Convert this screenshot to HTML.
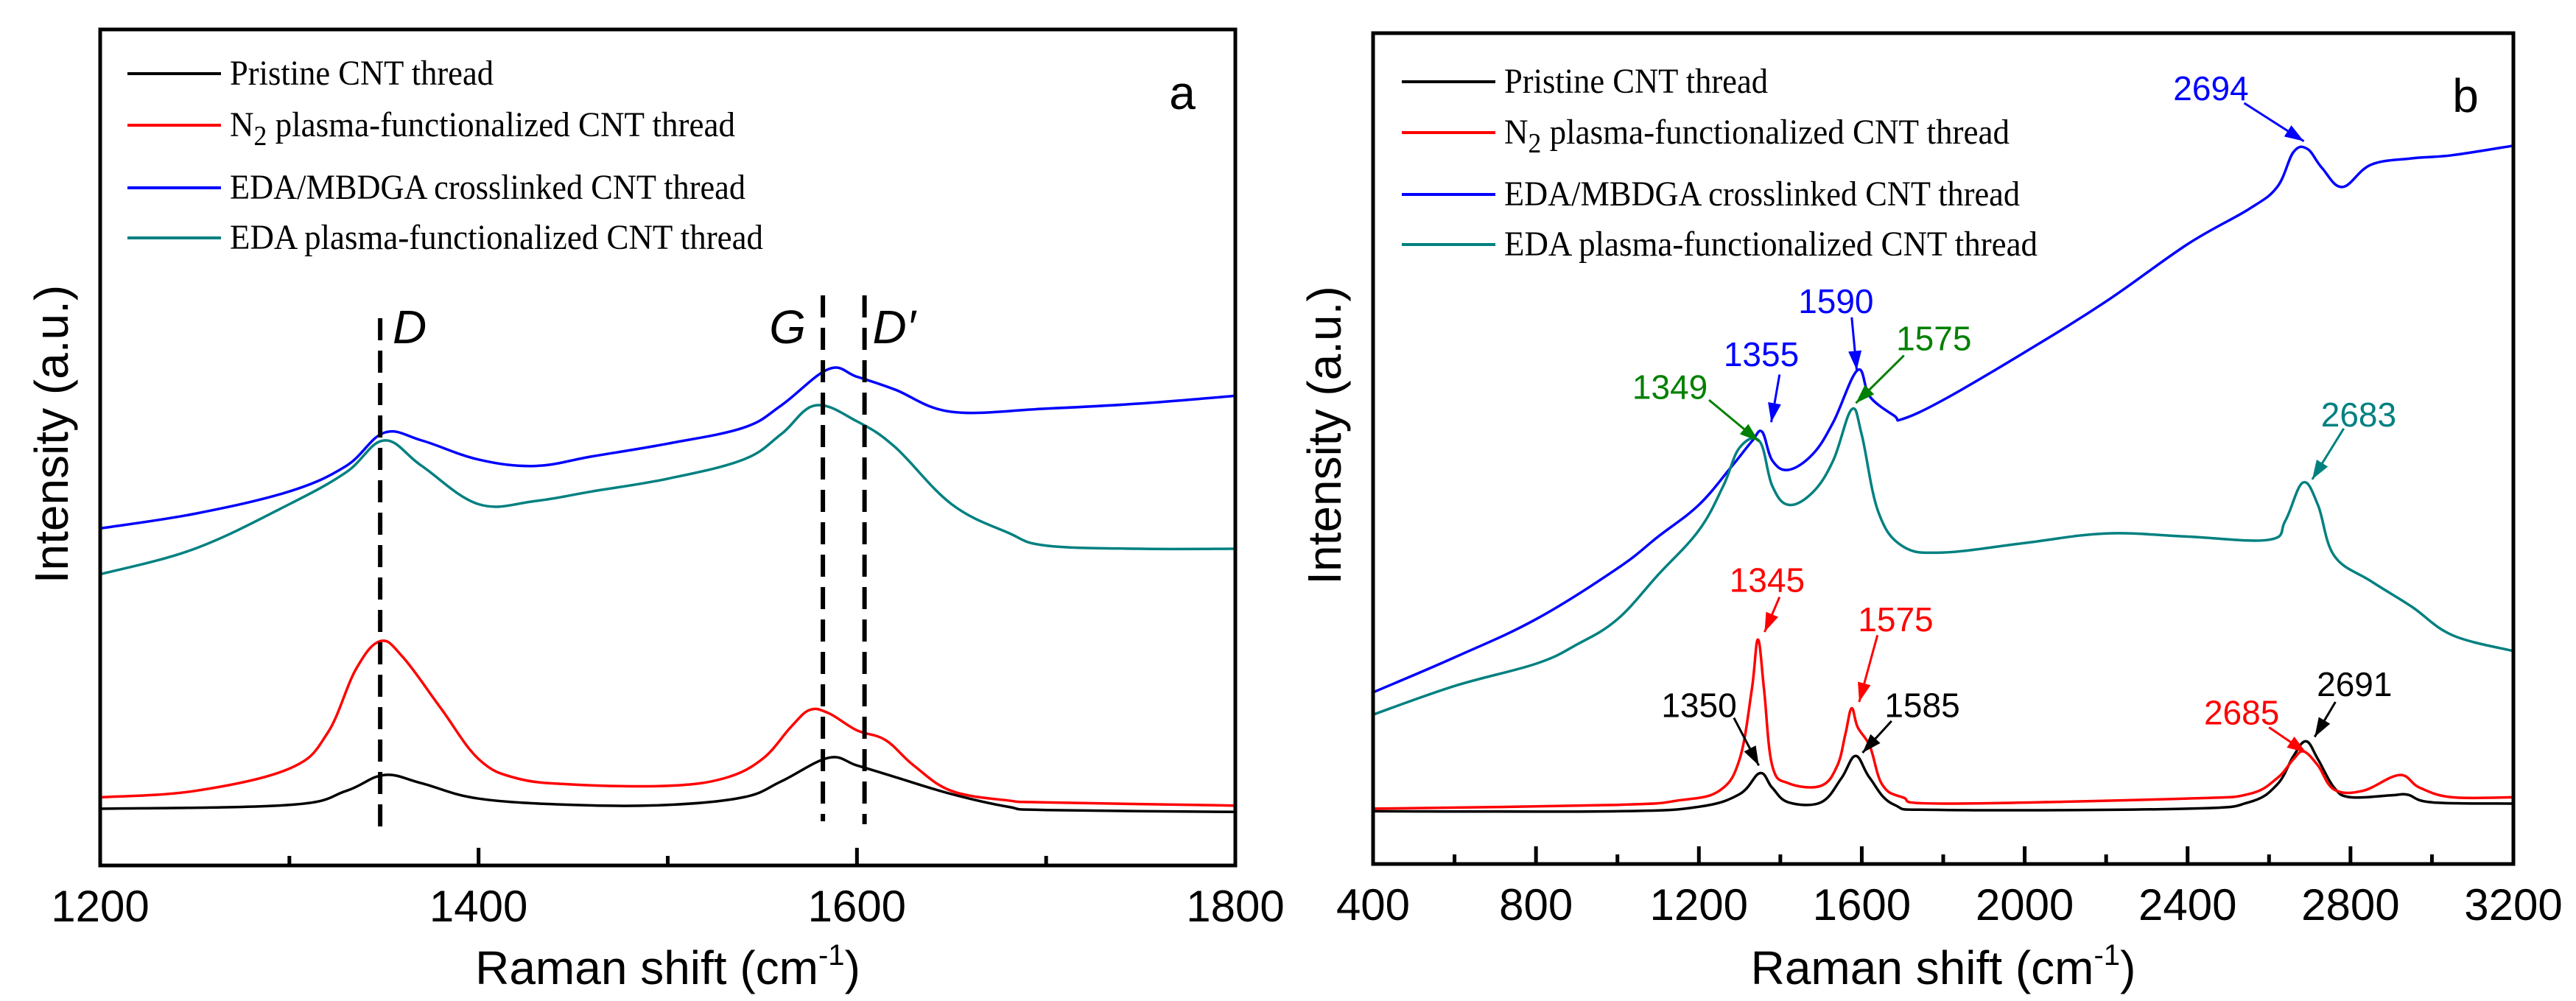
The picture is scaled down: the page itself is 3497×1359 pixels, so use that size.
<!DOCTYPE html>
<html><head><meta charset="utf-8">
<style>
html,body{margin:0;padding:0;background:#fff;}
svg{display:block;}
.tick{font-family:"Liberation Sans",sans-serif;font-size:60px;fill:#000;}
.title{font-family:"Liberation Sans",sans-serif;font-size:64px;fill:#000;}
.leg{font-family:"Liberation Serif",serif;font-size:48px;fill:#000;}
.ann{font-family:"Liberation Sans",sans-serif;font-size:46px;}
</style></head>
<body>
<svg id="chart" width="3497" height="1359" viewBox="0 0 3497 1359" xmlns="http://www.w3.org/2000/svg">
<defs>
<marker id="ahB" viewBox="0 0 10 10" refX="9" refY="5" markerWidth="9" markerHeight="9" markerUnits="userSpaceOnUse" orient="auto"><path d="M0,1 L10,5 L0,9 z" fill="#0000ff"/></marker>
</defs>
<g id="pa"></g>
<g id="pb"></g>
</svg>
<script>
// ---------- Panel a data ----------
const aBlackX = [1200,1300,1330,1350,1370,1400,1450,1500,1540,1560,1585,1600,1620,1650,1680,1700,1800];
const aBlackY = [89,95,117,142,129,105,95,95,107,132,169,157,139,112,92,87,84];
const aRedX = [1200,1250,1300,1320,1335,1348,1360,1380,1400,1420,1450,1500,1530,1550,1565,1575,1585,1600,1615,1630,1650,1680,1700,1800];
const aRedY = [107,117,152,207,307,352,327,247,167,137,127,125,137,167,217,244,239,212,197,157,117,102,99,94];
const aTealX = [1200,1250,1300,1330,1350,1370,1400,1430,1460,1500,1540,1560,1578,1600,1620,1650,1680,1700,1750,1800];
const aTealY = [457,497,567,617,667,627,567,572,587,607,637,677,722,697,657,567,522,502,497,497];
const aBlueX = [1200,1250,1300,1330,1350,1370,1400,1430,1460,1500,1540,1560,1585,1600,1620,1650,1700,1750,1800];
const aBlueY = [529,552,587,627,679,667,637,627,642,662,687,722,779,767,747,712,717,725,737];
const aPeakX = [1348,1582,1604];
const aPeakLabels = ["D","G","D\u2032"];
const aMajorTicks = [1200,1400,1600,1800];
const aMinorTicks = [1300,1500,1700];
// ---------- Panel b data ----------
const bBlackX = [400,1000,1200,1300,1350,1380,1420,1500,1550,1585,1620,1680,1800,2400,2550,2620,2660,2691,2720,2760,2800,2900,2940,3000,3200];
const bBlackY = [83,83,90,110,143,120,97,97,135,170,135,93,85,87,97,125,170,193,165,120,105,108,109,97,95];
const bRedX = [400,1000,1150,1250,1300,1330,1345,1360,1380,1420,1500,1540,1560,1575,1590,1620,1650,1700,1800,2400,2550,2620,2660,2685,2720,2760,2830,2920,2970,3050,3200];
const bRedY = [87,93,100,115,165,275,353,275,155,127,123,155,205,245,215,185,125,105,95,103,110,135,165,177,155,117,115,140,120,105,105];
const bTealX = [400,600,800,900,1000,1100,1200,1260,1300,1349,1380,1420,1480,1530,1575,1600,1640,1700,1800,2000,2200,2400,2600,2640,2683,2720,2760,2850,2950,3050,3200];
const bTealY = [235,280,315,345,385,455,525,595,655,665,595,565,585,635,715,675,555,500,490,505,520,515,510,540,600,565,485,445,405,360,335];
const bBlueX = [400,600,800,1000,1100,1200,1280,1330,1355,1380,1420,1480,1530,1590,1620,1680,1700,1800,2000,2200,2400,2550,2620,2660,2694,2730,2780,2850,2950,3050,3200];
const bBlueY = [270,325,385,465,515,565,625,665,680,635,620,645,695,777,735,705,700,730,805,885,975,1030,1065,1120,1125,1095,1065,1100,1110,1115,1130];
const bMajorTicks = [400,800,1200,1600,2000,2400,2800,3200];
const bMinorTicks = [600,1000,1400,1800,2200,2600,3000];
const legendLabels = ["Pristine CNT thread","N2 plasma-functionalized CNT thread","EDA/MBDGA crosslinked CNT thread","EDA plasma-functionalized CNT thread"];
const seriesColors = ["#000000","#ff0000","#0000ff","#008080"];

const NS = "http://www.w3.org/2000/svg";
function mk(parent, tag, attrs){
  const e = document.createElementNS(NS, tag);
  for (const k in attrs) e.setAttribute(k, attrs[k]);
  parent.appendChild(e);
  return e;
}
function scale(d0,d1,r0,r1){ return v => r0 + (v-d0)/(d1-d0)*(r1-r0); }
function smoothPath(xs, ys, sx, sy){
  const p = xs.map((x,i)=>[sx(x), sy(ys[i])]);
  let d = "M"+p[0][0].toFixed(1)+","+p[0][1].toFixed(1);
  for (let i=0;i<p.length-1;i++){
    const p0=p[Math.max(i-1,0)], p1=p[i], p2=p[i+1], p3=p[Math.min(i+2,p.length-1)];
    const t=0.18;
    const c1=[p1[0]+(p2[0]-p0[0])*t, p1[1]+(p2[1]-p0[1])*t];
    const c2=[p2[0]-(p3[0]-p1[0])*t, p2[1]-(p3[1]-p1[1])*t];
    d += " C"+c1[0].toFixed(1)+","+c1[1].toFixed(1)+" "+c2[0].toFixed(1)+","+c2[1].toFixed(1)+" "+p2[0].toFixed(1)+","+p2[1].toFixed(1);
  }
  return d;
}

function panel(g, cfg){
  const sx = scale(cfg.xmin, cfg.xmax, cfg.L, cfg.R);
  const sy = scale(0, cfg.ymax, cfg.B, cfg.T);
  // series
  cfg.series.forEach((s,i)=>{
    const p = mk(g,"path",{d:smoothPath(s.x,s.y,sx,sy),fill:"none",stroke:seriesColors[i],"stroke-width":3.5,"stroke-linejoin":"round"});
    
    
  });
  // frame
  const fr = mk(g,"rect",{x:cfg.L,y:cfg.T,width:cfg.R-cfg.L,height:cfg.B-cfg.T,fill:"none",stroke:"#000","stroke-width":5});
  
  
  cfg.major.forEach(v=>{
    const l = mk(g,"line",{x1:sx(v),x2:sx(v),y1:cfg.B,y2:cfg.B-24,stroke:"#000","stroke-width":5});
    
    
    const t = mk(g,"text",{x:sx(v),y:cfg.B+76,"text-anchor":"middle",class:"tick"});
    t.textContent = v;
    
    
  });
  cfg.minor.forEach(v=>{
    const l = mk(g,"line",{x1:sx(v),x2:sx(v),y1:cfg.B,y2:cfg.B-13,stroke:"#000","stroke-width":5});
    
    
  });
  // axis titles
  const xt = mk(g,"text",{x:(cfg.L+cfg.R)/2,y:1336,"text-anchor":"middle",class:"title"});
  xt.innerHTML = 'Raman shift (cm<tspan dy="-26" font-size="40">-1</tspan><tspan dy="26">)</tspan>';
  
  
  const yt = mk(g,"text",{x:0,y:0,"text-anchor":"middle",class:"title",transform:`translate(${cfg.L-44},${(cfg.T+cfg.B)/2-18}) rotate(-90)`});
  yt.textContent = "Intensity (a.u.)";
  
  
  // panel letter
  const pl = mk(g,"text",{x:cfg.letterX,y:cfg.letterY,"text-anchor":"middle",class:"title","font-size":"68"});
  pl.textContent = cfg.letter;
  
  
  // legend
  const lens = [358,686,700,724];
  legendLabels.forEach((lab,i)=>{
    const y = cfg.legY[i];
    const ln = mk(g,"line",{x1:cfg.legX,x2:cfg.legX+127,y1:y,y2:y,stroke:seriesColors[i],"stroke-width":4});
    
    
    const t = mk(g,"text",{x:cfg.legX+139,y:y+15,class:"leg",textLength:lens[i],lengthAdjust:"spacingAndGlyphs"});
    if (i===1) t.innerHTML = 'N<tspan dy="12" font-size="38">2</tspan><tspan dy="-12"> plasma-functionalized CNT thread</tspan>';
    else t.textContent = lab;
    
    
  });
  return {sx, sy};
}

const ga = document.getElementById('pa');
const A = panel(ga,{xmin:1200,xmax:1800,ymax:1312,L:136,R:1677,T:40,B:1175,
  major:aMajorTicks,minor:aMinorTicks,letter:"a",letterX:1605,letterY:148,legX:173,legY:[100,170,255,323],
  series:[{x:aBlackX,y:aBlackY,name:"pristine-curve"},{x:aRedX,y:aRedY,name:"n2-plasma-curve"},{x:aBlueX,y:aBlueY,name:"eda-mbdga-curve"},{x:aTealX,y:aTealY,name:"eda-plasma-curve"}]});
// dashed peak lines
const dashTop = [432,401,401], dashBot = [1126,1115,1119];
aPeakX.forEach((v,i)=>{
  const l = mk(ga,"line",{x1:A.sx(v),x2:A.sx(v),y1:dashTop[i],y2:dashBot[i],stroke:"#000","stroke-width":6,"stroke-dasharray":"30,14"});
  
  
  const dx = i===1 ? -48 : 40;
  const t = mk(ga,"text",{x:A.sx(v)+dx,y:466,"text-anchor":"middle",class:"title","font-style":"italic","font-size":"56"});
  t.textContent = aPeakLabels[i];
  
  
});

const gb = document.getElementById('pb');
panel(gb,{xmin:400,xmax:3200,ymax:1307,L:1864,R:3412,T:45,B:1173,
  major:bMajorTicks,minor:bMinorTicks,letter:"b",letterX:3347,letterY:152,legX:1903,legY:[111,180,264,332],
  series:[{x:bBlackX,y:bBlackY,name:"pristine-curve"},{x:bRedX,y:bRedY,name:"n2-plasma-curve"},{x:bBlueX,y:bBlueY,name:"eda-mbdga-curve"},{x:bTealX,y:bTealY,name:"eda-plasma-curve"}]});

// annotations (positions in reference layout)
const xb = z => 1740 + z*1.1263, yb = z => 45 + (z-48)*0.8631;
const anns = [
  ["2694","#0000ff",1120,135,1160,158,1232,218],
  ["1590","#0000ff",668,470,687,495,693,578],
  ["1355","#0000ff",578,553,600,585,590,660],
  ["1349","#008000",468,605,515,625,575,690],
  ["1575","#008000",786,528,750,555,692,630],
  ["2683","#008080",1298,648,1280,670,1242,750],
  ["1345","#ff0000",585,908,600,935,582,990],
  ["1575","#ff0000",740,970,718,995,696,1100],
  ["1350","#000000",503,1105,545,1125,575,1200],
  ["1585","#000000",772,1105,735,1130,700,1180],
  ["2685","#ff0000",1157,1117,1190,1140,1235,1180],
  ["2691","#000000",1293,1072,1270,1100,1245,1155]
];
anns.forEach((a,i)=>{
  const [lab,col,tx,ty,x1,y1,x2,y2] = a;
  const X1=xb(x1),Y1=yb(y1),X2=xb(x2),Y2=yb(y2);
  const ln = mk(gb,"line",{x1:X1,y1:Y1,x2:X2,y2:Y2,stroke:col,"stroke-width":3});
  
  
  const ang = Math.atan2(Y2-Y1,X2-X1), L=26, W=9;
  const bx = X2 - L*Math.cos(ang), by = Y2 - L*Math.sin(ang);
  const px = -Math.sin(ang)*W, py = Math.cos(ang)*W;
  const hd = mk(gb,"path",{d:`M${X2},${Y2} L${bx+px},${by+py} L${bx-px},${by-py} Z`,fill:col});
  
  
  const t = mk(gb,"text",{x:xb(tx),y:yb(ty)+16,"text-anchor":"middle",class:"ann",fill:col});
  t.textContent = lab;
  
  
});
</script>
</body></html>
